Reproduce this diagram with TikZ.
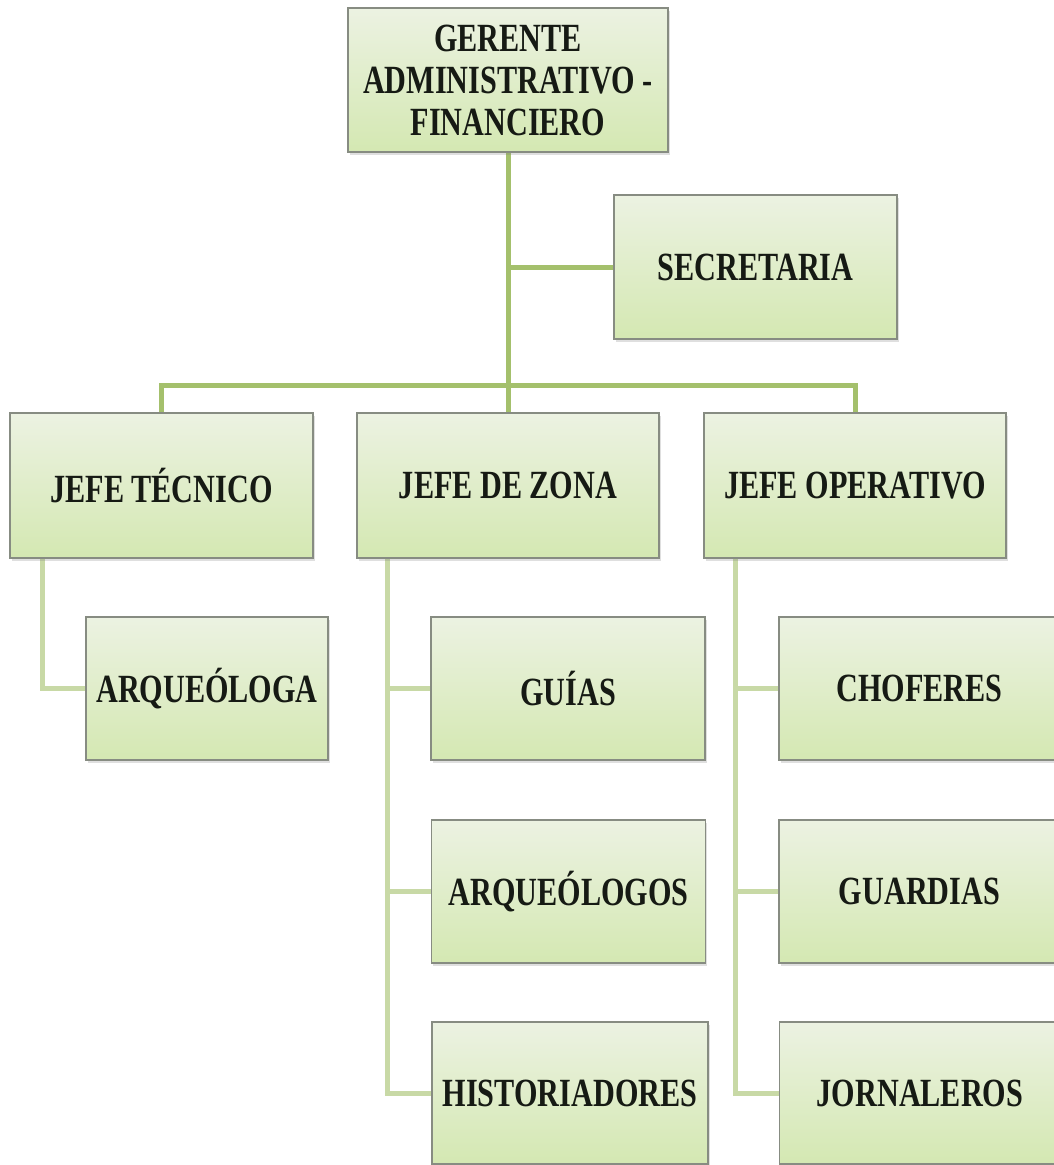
\documentclass[tikz,border=0pt]{standalone}
\usepackage{fontspec}
\newfontfamily\boxfont[FakeStretch=0.755]{Liberation Serif}
\usetikzlibrary{shadows,backgrounds}
\definecolor{boxtop}{RGB}{236,242,226}
\definecolor{boxbot}{RGB}{212,232,178}
\definecolor{boxline}{RGB}{135,140,130}
\definecolor{mainline}{RGB}{164,192,108}
\definecolor{subline}{RGB}{200,217,166}
\definecolor{txt}{RGB}{22,26,20}
\begin{document}
\begin{tikzpicture}[x=1pt,y=-1pt,
  orgbox/.style={draw=boxline, line width=1.4pt, top color=boxtop, bottom color=boxbot,
    minimum height=144pt, inner sep=0pt, align=center, text=txt,
    font=\boxfont\bfseries\fontsize{40}{42}\selectfont,
    drop shadow={opacity=0.25, shadow xshift=1.5pt, shadow yshift=-3pt}},
  mainconn/.style={draw=mainline, line width=5pt},
  subconn/.style={draw=subline, line width=5pt}]
\useasboundingbox (0,0) rectangle (1053,1165);

\node[orgbox, minimum width=320pt] (ger) at (508,80) {GERENTE\\ADMINISTRATIVO -\\FINANCIERO};
\node[orgbox, minimum width=283pt] (sec) at (755.5,267) {SECRETARIA};
\node[orgbox, minimum width=303pt, minimum height=145pt] (jt) at (161.5,485.5) {JEFE TÉCNICO};
\node[orgbox, minimum width=302pt, minimum height=145pt] (jz) at (508,485.5) {JEFE DE ZONA};
\node[orgbox, minimum width=302pt, minimum height=145pt] (jo) at (855,485.5) {JEFE OPERATIVO};
\node[orgbox, minimum width=242pt, minimum height=143pt] (arq) at (207,688.5) {ARQUEÓLOGA};
\node[orgbox, minimum width=274pt, minimum height=143pt] (guias) at (568,688.5) {GUÍAS};
\node[orgbox, minimum width=274pt, minimum height=143pt] (arqs) at (568.5,891.5) {ARQUEÓLOGOS};
\node[orgbox, minimum width=276pt, minimum height=142pt] (hist) at (570,1093) {HISTORIADORES};
\node[orgbox, minimum width=281pt, minimum height=143pt] (chof) at (919.5,688.5) {CHOFERES};
\node[orgbox, minimum width=281pt, minimum height=143pt] (guard) at (919.5,891.5) {GUARDIAS};
\node[orgbox, minimum width=281pt, minimum height=142pt] (jorn) at (920,1093) {JORNALEROS};

\begin{scope}[on background layer]
  \fill[white] (0,0) rectangle (1053,1165);
  \draw[mainconn] (ger.south) -- (jz.north);
  \draw[mainconn] (ger.south |- sec.west) -- (sec.west);
  \draw[mainconn] (jt.north) -- ++(0,-27) -| (jo.north);
  \draw[subconn] ([xshift=33pt]jt.south west) |- (arq.west);
  \draw[subconn] ([xshift=31pt]jz.south west) coordinate (zbus) |- (hist.west);
  \draw[subconn] (zbus |- guias.west) -- (guias.west);
  \draw[subconn] (zbus |- arqs.west) -- (arqs.west);
  \draw[subconn] ([xshift=32pt]jo.south west) coordinate (obus) |- (jorn.west);
  \draw[subconn] (obus |- chof.west) -- (chof.west);
  \draw[subconn] (obus |- guard.west) -- (guard.west);
\end{scope}
\end{tikzpicture}
\end{document}
